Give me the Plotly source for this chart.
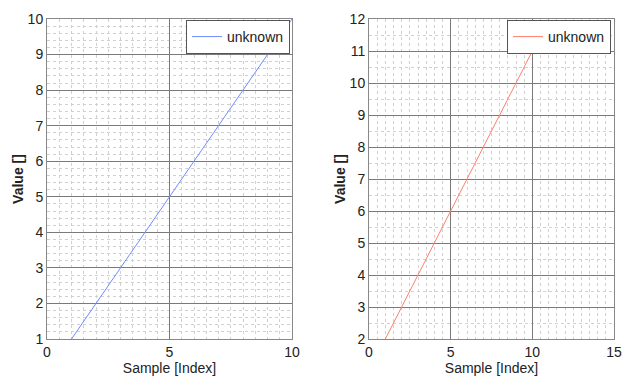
import plotly.graph_objects as go

# Data
x_left = [1, 2, 3, 4, 5, 6, 7, 8, 9, 10]
y_left = [1, 2, 3, 4, 5, 6, 7, 8, 9, 10]
x_right = [1, 2, 3, 4, 5, 6, 7, 8, 9, 10, 11]
y_right = [2, 3, 4, 5, 6, 7, 8, 9, 10, 11, 12]
series_name = "unknown"

W, H = 629, 391
fig = go.Figure()
fig.add_trace(go.Scatter(x=x_left, y=y_left, mode="lines", name=series_name,
                         line=dict(color="#6f8cff", width=1), xaxis="x", yaxis="y",
                         legend="legend"))
fig.add_trace(go.Scatter(x=x_right, y=y_right, mode="lines", name=series_name,
                         line=dict(color="#ff7f6e", width=1), xaxis="x2", yaxis="y2",
                         legend="legend2"))

font = dict(family="Liberation Sans, Arial, sans-serif", size=14, color="#222")
ydom = [1 - 339 / H, 1 - 19 / H]
xd1 = [47 / W, 292 / W]
xd2 = [369 / W, 614 / W]

def xaxis(dom, rng, anchor):
    return dict(domain=dom, range=rng, dtick=5, anchor=anchor, automargin=False,
                showgrid=True, gridcolor="#7a7a7a", gridwidth=1,
                minor=dict(dtick=0.5, showgrid=True, gridcolor="#d0d0d0", griddash="dot", gridwidth=1),
                showline=True, linecolor="#888", linewidth=1, mirror=True,
                ticks="", zeroline=False, tickfont=font,
                title=dict(text="Sample [Index]", font=font, standoff=4))

def yaxis(rng, anchor, minor):
    return dict(domain=ydom, range=rng, dtick=1, anchor=anchor, automargin=False,
                showgrid=True, gridcolor="#7a7a7a", gridwidth=1,
                minor=dict(dtick=minor, showgrid=True, gridcolor="#d0d0d0", griddash="dot", gridwidth=1),
                showline=True, linecolor="#888", linewidth=1, mirror=True,
                ticks="", zeroline=False, tickfont=font,
                title=dict(text="<b>Value []</b>", font=font, standoff=0))

legend_common = dict(bgcolor="white", bordercolor="#555", borderwidth=1,
                     font=dict(family=font["family"], size=14, color="#222"),
                     xanchor="right", yanchor="top", itemwidth=30,
                     tracegroupgap=0)

fig.update_layout(
    width=W, height=H, margin=dict(l=0, r=0, t=0, b=0, autoexpand=False),
    paper_bgcolor="white", plot_bgcolor="white",
    xaxis=xaxis(xd1, [0, 10], "y"),
    yaxis=yaxis([1, 10], "x", 0.2),
    xaxis2=xaxis(xd2, [0, 15], "y2"),
    yaxis2=yaxis([2, 12], "x2", 0.5),
    legend=dict(x=290 / W, y=1 - 20 / H, **legend_common),
    legend2=dict(x=611 / W, y=1 - 20 / H, **legend_common),
    showlegend=True,
)

fig.write_html("out.html", config={"displayModeBar": False},
               post_script="document.body.style.margin='0';document.body.style.overflow='hidden';")
